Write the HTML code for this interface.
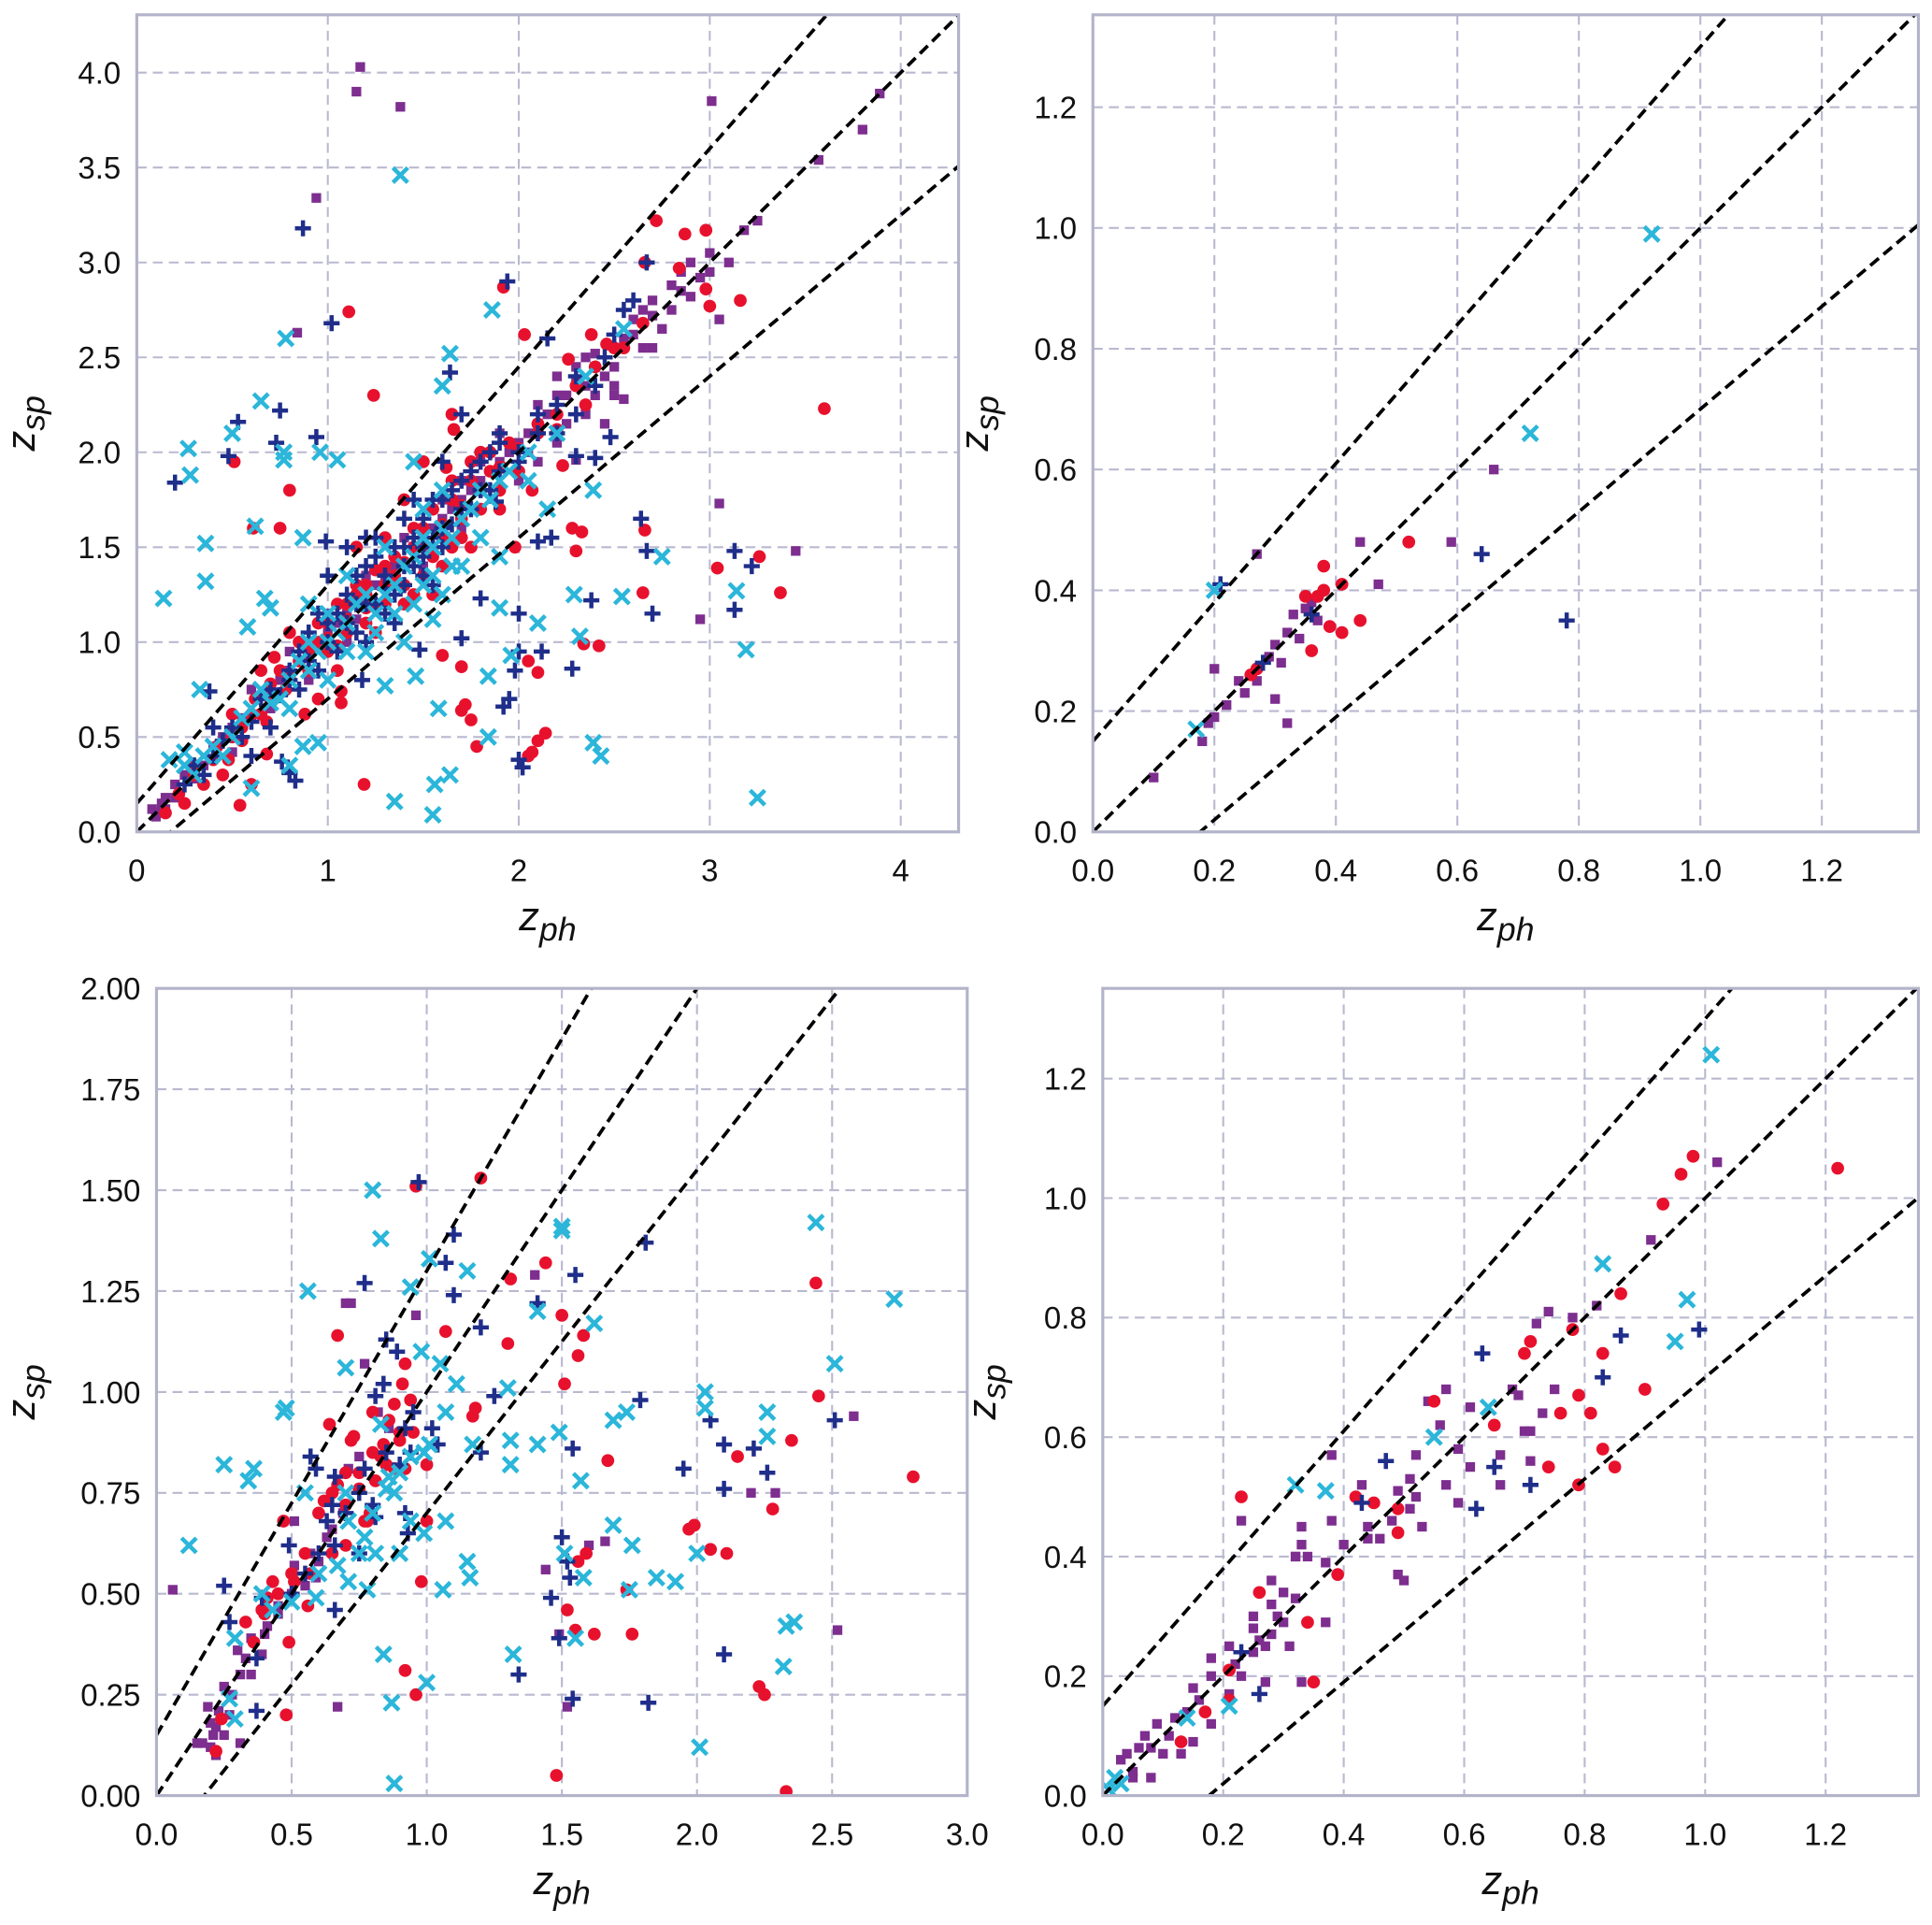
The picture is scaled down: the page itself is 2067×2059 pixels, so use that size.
<!DOCTYPE html>
<html><head><meta charset="utf-8"><title>z_sp vs z_ph scatter panels</title>
<style>
html,body{margin:0;padding:0;background:#fff;}
svg{display:block;font-family:"Liberation Sans",Arial,sans-serif;}
</style></head>
<body>
<svg id="fig" width="2067" height="2059" viewBox="0 0 1568 1562" xmlns="http://www.w3.org/2000/svg"></svg>
<script>
// ---------- DATA ----------
// Panel 1 (top-left)
const p1Purple = [[1.17,4.03],[1.15,3.90],[1.38,3.82],[0.94,3.34],[0.84,2.63],[3.01,3.85],[3.89,3.89],[3.80,3.70],[3.57,3.54],[3.25,3.22],[3.18,3.17],[3.05,1.73],[2.95,1.12],[3.45,1.48],[2.30,1.96],[2.05,2.0],
[0.10,0.08],[0.15,0.12],[0.20,0.18],[0.13,0.15],[0.25,0.30],[0.30,0.28],[0.35,0.35],[0.45,0.50],[0.55,0.60],[0.65,0.62],[0.75,0.80],[0.85,0.90],[0.95,1.00],[1.05,1.10],[1.15,1.12],[1.25,1.30],[1.35,1.40],[1.45,1.50],[1.55,1.60],[1.65,1.70],[1.75,1.80],[1.85,1.90],[1.95,2.00],[2.05,2.10],[2.15,2.20],[2.25,2.30],[2.35,2.35],[2.45,2.40],[2.40,2.52],[2.50,2.45],[2.55,2.60],[2.60,2.70],[2.65,2.75],[2.70,2.80],[2.75,2.65],[2.80,2.88],[2.85,2.95],[2.90,3.00],[3.00,3.05],[3.10,3.00],[3.05,2.70],[2.30,2.45],[2.20,2.05],[2.10,2.25],[2.00,1.85],[1.80,1.95],[1.70,1.60],[1.60,1.75],[1.50,1.40],[1.40,1.55],[1.30,1.20],[1.20,1.35],[1.10,1.00],[1.00,1.15],[0.90,0.80],[0.80,0.95],[0.70,0.65],[0.60,0.75],[0.50,0.42],[0.40,0.45],[2.55,2.28],[2.45,2.15],[2.70,2.55],[2.35,2.50],[2.50,2.35],[2.25,2.15],[2.40,2.30],
[0.5,0.55],[0.6,0.6],[0.7,0.72],[0.8,0.85],[0.9,0.92],[1.0,1.05],[1.1,1.15],[1.2,1.22],[1.3,1.35],[1.4,1.42],[1.5,1.55],[1.6,1.65],[1.7,1.75],[1.8,1.85],[1.9,1.95],[2.0,2.05],[2.1,2.15],[2.2,2.3],[2.3,2.38],[2.4,2.45],[2.5,2.55],[2.6,2.62],[2.65,2.55],[2.7,2.72],[2.8,2.75],[2.85,2.85],[2.9,2.82],[2.95,2.92],[3.0,2.95],[2.2,2.4],[2.1,1.95],[1.9,2.1],[1.7,1.85],[2.5,2.3],[2.35,2.2],[0.2,0.25],[0.15,0.18],[0.3,0.32],[0.12,0.1],[0.08,0.12]];
const p1Red = [[1.92,2.87],[1.11,2.74],[1.24,2.30],[0.51,1.95],[0.80,1.80],[0.75,1.60],[0.61,1.60],[3.60,2.23],[2.66,1.59],[3.26,1.45],[3.04,1.39],[3.37,1.26],[2.65,1.26],[2.30,1.48],[2.28,1.60],[2.33,1.58],[2.42,0.98],[2.34,0.99],[2.10,0.84],[2.05,0.90],[1.70,0.87],[1.60,0.93],[1.72,0.67],[1.70,0.64],[1.75,0.59],[1.78,0.45],[2.10,0.48],[2.14,0.52],[2.07,0.42],[2.05,0.40],[1.19,0.25],[0.54,0.14],[0.60,0.25],[0.70,0.78],[0.68,0.41],[1.07,0.74],[1.07,0.68],[2.72,3.22],[2.98,3.17],[2.87,3.15],[2.66,3.00],[2.84,2.97],[2.98,2.86],[3.00,2.77],[3.16,2.80],[2.38,2.62],[2.26,2.49],[2.03,2.62],[2.50,2.55],[2.46,2.57],[1.98,1.50],[2.07,1.80],[1.91,1.92],[1.65,2.20],[1.66,2.12],[2.35,2.25],[2.23,1.93],
[0.15,0.10],[0.22,0.20],[0.30,0.35],[0.35,0.25],[0.42,0.45],[0.48,0.38],[0.55,0.55],[0.62,0.70],[0.68,0.58],[0.72,0.92],[0.78,0.75],[0.85,1.00],[0.90,0.85],[0.95,1.10],[1.00,0.95],[1.05,1.20],[1.10,1.05],[1.15,1.30],[1.20,1.10],[1.25,1.38],[1.30,1.20],[1.35,1.45],[1.40,1.30],[1.45,1.60],[1.50,1.35],[1.55,1.70],[1.60,1.55],[1.65,1.85],[1.70,1.65],[1.75,1.95],[1.80,1.70],[1.85,2.00],[1.90,1.80],[1.95,2.05],[2.00,1.90],[2.10,2.15],[2.20,2.20],[2.30,2.35],[2.40,2.45],[2.55,2.55],[2.65,2.68],[1.30,1.55],[1.20,1.25],[1.55,1.25],[1.40,1.75],[1.75,1.50],[1.05,0.85],[0.95,0.70],[0.80,1.05],[0.65,0.85],[1.62,1.92],[1.50,1.95],[1.45,1.25],[1.65,1.50],[1.25,1.05],[1.15,1.50],[0.50,0.62],[0.45,0.30],[0.25,0.15],[0.88,0.62],
[0.3,0.3],[0.4,0.38],[0.5,0.5],[0.6,0.62],[0.7,0.7],[0.8,0.82],[0.9,0.95],[1.0,1.02],[1.1,1.12],[1.2,1.18],[1.3,1.3],[1.4,1.42],[1.5,1.5],[1.6,1.62],[1.7,1.72],[1.8,1.8],[1.9,1.92],[2.0,2.02],[2.1,2.1],[2.2,2.12],[1.15,1.25],[1.25,1.2],[1.35,1.35],[1.45,1.5],[1.55,1.45],[1.65,1.75],[1.75,1.85],[1.85,1.9],[0.95,1.0],[1.05,0.98],[0.85,0.9],[0.75,0.85],[0.65,0.62],[0.55,0.48],[1.3,1.4],[1.4,1.2],[1.5,1.6],[1.2,1.3],[1.1,1.2],[1.0,1.1],[1.6,1.4],[1.7,1.55],[1.8,2.0],[1.9,1.7]];
const p1Navy = [[0.87,3.18],[1.02,2.68],[0.53,2.16],[0.75,2.22],[0.94,2.08],[0.20,1.84],[0.48,1.98],[0.73,2.05],[1.94,2.90],[2.67,3.00],[2.15,2.60],[1.64,2.42],[2.60,2.80],[2.64,1.65],[2.67,1.48],[3.13,1.48],[3.22,1.40],[3.13,1.17],[2.70,1.15],[2.38,1.22],[1.80,1.23],[2.00,1.15],[2.00,0.95],[1.98,0.85],[1.95,0.70],[1.92,0.66],[2.00,0.38],[2.02,0.34],[2.28,0.86],[2.12,0.95],[1.70,1.02],[1.48,0.96],[1.18,0.80],[0.38,0.74],[0.80,0.31],[0.83,0.27],[0.76,0.37],[0.99,1.53],[1.88,1.74],[2.17,1.55],[2.10,1.53],[2.40,1.97],[2.30,1.98],[2.48,2.08],
[0.25,0.25],[0.35,0.30],[0.45,0.48],[0.55,0.50],[0.65,0.70],[0.75,0.72],[0.85,0.95],[0.90,1.05],[1.00,1.00],[1.05,1.15],[1.10,1.25],[1.15,1.05],[1.20,1.40],[1.25,1.20],[1.30,1.35],[1.35,1.25],[1.40,1.50],[1.45,1.40],[1.50,1.65],[1.55,1.55],[1.60,1.75],[1.65,1.62],[1.70,1.85],[1.75,1.70],[1.80,1.95],[1.85,1.80],[1.90,2.05],[2.00,2.00],[2.10,2.10],[2.20,2.25],[2.30,2.20],[2.40,2.35],[2.50,2.62],[2.55,2.75],[1.00,1.35],[1.10,1.50],[1.25,1.55],[1.45,1.75],[1.60,1.95],[0.95,0.85],[0.80,0.80],[0.70,0.55],[1.35,1.10],[1.55,1.30],[1.20,1.55],[1.70,2.20],[1.90,2.10],[0.60,0.40],[0.40,0.55],[1.15,1.20],[1.40,1.30],[1.50,1.50],
[0.3,0.35],[0.4,0.4],[0.5,0.55],[0.6,0.58],[0.7,0.75],[0.8,0.85],[0.9,0.9],[1.0,1.1],[1.1,1.1],[1.2,1.2],[1.3,1.28],[1.4,1.4],[1.5,1.45],[1.6,1.6],[1.7,1.7],[1.8,1.8],[1.9,1.9],[2.0,1.95],[2.1,2.2],[2.2,2.1],[1.05,0.95],[1.15,1.35],[1.25,1.45],[1.35,1.5],[1.45,1.55],[1.55,1.75],[1.65,1.8],[1.75,1.9],[1.85,2.0],[0.95,1.15],[0.85,0.75],[1.3,1.15],[1.5,1.35],[1.2,1.0],[1.4,1.65],[1.6,1.5],[2.3,2.4],[2.45,2.5]];
const p1Cyan = [[1.38,3.46],[0.78,2.60],[1.86,2.75],[1.64,2.52],[0.65,2.27],[0.50,2.10],[0.27,2.02],[0.28,1.88],[0.77,2.0],[0.77,1.96],[0.96,2.0],[1.05,1.96],[0.36,1.52],[0.36,1.32],[0.14,1.23],[0.62,1.61],[0.87,1.55],[0.67,1.23],[0.70,1.18],[0.58,1.08],[2.29,1.25],[2.54,1.24],[2.75,1.45],[3.14,1.27],[3.19,0.96],[3.25,0.18],[2.39,0.47],[2.43,0.40],[1.84,0.50],[1.84,0.82],[1.64,0.30],[1.56,0.25],[1.55,0.09],[1.35,0.16],[1.30,0.77],[1.46,0.82],[1.58,0.65],[1.90,1.18],[2.32,1.03],[1.96,0.93],[2.10,1.10],[1.60,2.35],[1.90,1.45],[2.39,1.80],[0.33,0.75],[0.87,0.45],[0.95,0.47],[0.80,0.35],[0.60,0.23],[0.17,0.38],[0.25,0.42],
[0.25,0.35],[0.35,0.40],[0.45,0.40],[0.55,0.60],[0.65,0.75],[0.75,0.70],[0.85,0.90],[0.95,0.95],[1.05,1.05],[1.15,1.20],[1.25,1.15],[1.35,1.30],[1.45,1.45],[1.55,1.50],[1.65,1.55],[1.75,1.70],[1.85,1.75],[1.95,1.90],[2.05,2.00],[2.20,2.10],[2.35,2.40],[2.55,2.65],[1.50,1.30],[1.60,1.25],[1.55,1.12],[1.40,1.00],[1.20,0.95],[1.00,0.80],[1.70,1.40],[1.80,1.55],[2.05,1.85],[2.15,1.70],[1.45,1.95],[1.30,1.50],[1.10,1.35],[0.90,1.20],
[0.3,0.3],[0.4,0.45],[0.5,0.5],[0.6,0.65],[0.7,0.68],[0.8,0.8],[0.9,0.85],[1.0,1.0],[1.1,1.1],[1.2,1.25],[1.3,1.25],[1.4,1.4],[1.5,1.55],[1.6,1.6],[1.7,1.65],[1.8,1.8],[1.9,1.85],[1.25,1.05],[1.35,1.15],[1.45,1.2],[1.55,1.35],[1.65,1.4],[1.0,1.15],[1.1,0.95],[1.5,1.7],[1.6,1.8],[0.8,0.65],[0.9,1.0]];

// Panel 2 (top-right)
const p2Purple = [[0.66,0.60],[0.59,0.48],[0.44,0.48],[0.47,0.41],[0.27,0.46],[0.10,0.09],[0.18,0.15],[0.19,0.18],[0.20,0.19],[0.22,0.21],[0.24,0.25],[0.20,0.27],[0.27,0.25],[0.29,0.29],[0.30,0.31],[0.31,0.28],[0.32,0.33],[0.33,0.36],[0.34,0.32],[0.30,0.22],[0.32,0.18],[0.35,0.37],[0.37,0.35],[0.25,0.23],[0.35,0.39],[0.36,0.38]];
const p2Red = [[0.52,0.48],[0.38,0.44],[0.41,0.41],[0.38,0.40],[0.37,0.39],[0.35,0.39],[0.44,0.35],[0.39,0.34],[0.41,0.33],[0.36,0.30],[0.27,0.27],[0.26,0.26]];
const p2Navy = [[0.21,0.41],[0.64,0.46],[0.78,0.35],[0.36,0.36],[0.28,0.28]];
const p2Cyan = [[0.92,0.99],[0.72,0.66],[0.20,0.40],[0.17,0.17]];

// Panel 3 (bottom-left)
const p3Purple = [[1.40,1.29],[0.70,1.22],[0.72,1.22],[0.96,1.19],[0.77,1.07],[2.58,0.94],[2.20,0.75],[2.29,0.75],[1.66,0.63],[1.60,0.62],[1.44,0.56],[0.06,0.51],[2.52,0.41],[1.49,0.40],[1.52,0.22],[0.67,0.22],
[0.31,0.13],[0.21,0.15],[0.22,0.17],[0.23,0.21],[0.25,0.27],[0.31,0.30],[0.33,0.34],[0.35,0.39],[0.41,0.42],[0.45,0.47],[0.51,0.57],[0.57,0.60],[0.63,0.64],[0.69,0.70],[0.71,0.81],[0.75,0.84],[0.86,0.91],[0.82,0.95],[0.19,0.22],[0.17,0.13],[0.51,0.68],[0.59,0.54],[0.39,0.35],[0.15,0.13],[0.22,0.10],[0.20,0.12],[0.28,0.25],[0.30,0.36],
[0.4,0.4],[0.45,0.45],[0.5,0.5],[0.55,0.52],[0.6,0.58],[0.65,0.66],[0.27,0.2],[0.25,0.15],[0.2,0.18],[0.35,0.3]];
const p3Red = [[1.20,1.53],[0.96,1.51],[1.44,1.32],[1.31,1.28],[2.44,1.27],[1.50,1.19],[1.58,1.14],[1.56,1.09],[1.07,1.15],[1.30,1.12],[0.67,1.14],[0.92,1.07],[1.51,1.02],[2.45,0.99],[0.91,1.02],[0.94,0.98],[1.18,0.96],[1.17,0.94],[0.64,0.92],[2.35,0.88],[2.15,0.84],[1.67,0.83],[2.80,0.79],[0.73,0.89],[0.84,0.87],[0.88,0.81],[0.92,0.81],[1.00,0.82],[0.81,0.78],[0.75,0.76],[0.67,0.77],[0.62,0.73],[0.79,0.70],[0.77,0.68],[2.28,0.71],[0.47,0.68],[1.00,0.68],[1.99,0.67],[1.97,0.66],[0.57,0.55],[0.51,0.53],[0.43,0.53],[2.05,0.61],[2.11,0.60],[1.59,0.60],[1.56,0.58],[0.98,0.53],[0.56,0.47],[1.74,0.51],[0.33,0.43],[0.39,0.46],[1.52,0.46],[1.62,0.40],[1.76,0.40],[1.55,0.41],[0.49,0.38],[0.92,0.31],[0.96,0.25],[2.23,0.27],[2.25,0.25],[0.48,0.20],[0.24,0.19],[0.22,0.11],[1.48,0.05],[2.33,0.01],[0.36,0.38],[0.41,0.49],[0.86,0.93],[0.83,0.84],[0.90,0.90],[0.70,0.80],
[0.6,0.7],[0.65,0.75],[0.7,0.72],[0.75,0.8],[0.8,0.85],[0.85,0.82],[0.9,0.88],[0.95,0.9],[0.7,0.62],[0.65,0.6],[0.55,0.6],[0.5,0.55],[0.45,0.5],[0.4,0.45],[0.8,0.95],[0.88,0.97],[0.78,0.68],[0.72,0.88]];
const p3Navy = [[0.97,1.52],[1.10,1.39],[1.07,1.32],[1.10,1.24],[0.77,1.27],[1.55,1.29],[1.81,1.37],[1.20,1.16],[1.41,1.22],[0.85,1.13],[0.89,1.10],[0.84,1.02],[0.81,0.99],[1.25,0.99],[1.79,0.98],[2.05,0.93],[2.51,0.93],[2.10,0.87],[2.21,0.86],[1.54,0.86],[1.20,0.85],[1.95,0.81],[2.26,0.80],[2.10,0.76],[0.57,0.84],[0.59,0.81],[0.66,0.79],[1.02,0.91],[1.04,0.87],[0.92,0.91],[0.94,0.85],[0.77,0.81],[0.81,0.69],[0.92,0.70],[0.63,0.68],[0.66,0.62],[0.49,0.62],[0.75,0.60],[1.50,0.64],[1.52,0.58],[1.53,0.54],[1.46,0.49],[0.66,0.46],[0.39,0.49],[0.25,0.52],[0.27,0.43],[0.37,0.34],[0.37,0.21],[1.49,0.39],[2.10,0.35],[1.34,0.30],[1.54,0.24],[1.82,0.23],[0.93,0.65],
[0.7,0.7],[0.75,0.75],[0.8,0.72],[0.85,0.85],[0.9,0.82],[0.6,0.6],[0.55,0.55],[0.65,0.72],[0.95,0.95],[0.5,0.5]];
const p3Cyan = [[0.80,1.50],[0.83,1.38],[0.56,1.25],[1.01,1.33],[1.15,1.30],[0.94,1.26],[1.50,1.41],[1.50,1.40],[2.44,1.42],[2.73,1.23],[1.41,1.20],[1.62,1.17],[0.98,1.10],[1.05,1.07],[1.11,1.02],[0.70,1.06],[1.30,1.01],[2.51,1.07],[2.03,1.00],[2.03,0.96],[2.26,0.95],[2.26,0.89],[1.74,0.95],[1.69,0.93],[1.49,0.90],[1.41,0.87],[1.31,0.88],[1.31,0.82],[1.17,0.87],[1.07,0.95],[0.47,0.95],[0.48,0.96],[0.25,0.82],[0.36,0.81],[0.34,0.78],[1.57,0.78],[0.55,0.75],[0.12,0.62],[1.69,0.67],[1.76,0.62],[2.00,0.60],[1.51,0.60],[1.58,0.54],[1.85,0.54],[1.92,0.53],[1.15,0.58],[1.16,0.54],[1.06,0.51],[1.75,0.51],[1.55,0.39],[2.36,0.43],[2.33,0.42],[2.32,0.32],[0.84,0.35],[1.32,0.35],[1.00,0.28],[0.87,0.23],[2.01,0.12],[0.88,0.03],
[0.83,0.92],[0.88,0.75],[0.85,0.76],[0.77,0.64],[0.81,0.60],[0.71,0.68],[0.43,0.46],[0.39,0.50],[0.29,0.39],[0.27,0.24],[0.29,0.19],[0.59,0.49],[0.67,0.57],[0.71,0.53],[0.94,0.68],[0.99,0.65],[0.90,0.60],[0.78,0.51],[0.86,0.79],[1.01,0.87],[0.99,0.85],[0.94,0.84],[1.07,0.68],
[0.7,0.75],[0.8,0.7],[0.9,0.8],[0.6,0.55],[0.5,0.48],[0.75,0.6]];

// Panel 4 (bottom-right)
const p4Purple = [[1.02,1.06],[0.91,0.93],[0.74,0.81],[0.82,0.82],[0.72,0.79],[0.78,0.80],[0.68,0.68],[0.69,0.67],[0.57,0.68],[0.54,0.66],[0.61,0.65],[0.75,0.68],[0.73,0.64],[0.70,0.61],[0.71,0.61],[0.56,0.62],[0.59,0.58],[0.66,0.57],[0.61,0.55],[0.52,0.57],[0.51,0.53],[0.52,0.50],[0.57,0.52],[0.59,0.49],[0.66,0.52],[0.71,0.56],[0.49,0.51],[0.51,0.48],[0.48,0.46],[0.53,0.45],[0.43,0.52],[0.44,0.45],[0.44,0.43],[0.46,0.43],[0.49,0.37],[0.38,0.57],[0.38,0.46],[0.37,0.39],[0.37,0.29],[0.33,0.45],[0.32,0.40],[0.33,0.42],[0.34,0.40],[0.30,0.34],[0.32,0.33],[0.29,0.30],[0.28,0.27],[0.27,0.25],[0.31,0.25],[0.25,0.24],[0.23,0.20],[0.23,0.46],[0.33,0.19],[0.27,0.19],[0.22,0.22],[0.18,0.20],[0.15,0.18],[0.16,0.16],[0.14,0.14],[0.12,0.13],[0.09,0.12],[0.07,0.10],[0.06,0.08],[0.04,0.07],[0.03,0.06],[0.10,0.07],[0.08,0.03],[0.05,0.04],[0.05,0.03],[0.18,0.12],[0.15,0.09],[0.13,0.07],[0.21,0.17],[0.25,0.30],[0.25,0.28],[0.28,0.36],[0.32,0.40],[0.40,0.42],[0.18,0.23],[0.21,0.25],[0.50,0.36],[0.28,0.32],[0.30,0.29],[0.26,0.26],[0.11,0.10],[0.08,0.08]];
const p4Red = [[1.22,1.05],[0.98,1.07],[0.96,1.04],[0.93,0.99],[0.86,0.84],[0.78,0.78],[0.71,0.76],[0.70,0.74],[0.83,0.74],[0.55,0.66],[0.65,0.62],[0.79,0.67],[0.76,0.64],[0.81,0.64],[0.90,0.68],[0.83,0.58],[0.74,0.55],[0.85,0.55],[0.79,0.52],[0.23,0.50],[0.42,0.50],[0.45,0.49],[0.49,0.48],[0.49,0.44],[0.39,0.37],[0.26,0.34],[0.34,0.29],[0.35,0.19],[0.21,0.21],[0.21,0.16],[0.17,0.14],[0.13,0.09]];
const p4Navy = [[0.63,0.74],[0.86,0.77],[0.99,0.78],[0.83,0.70],[0.47,0.56],[0.65,0.55],[0.71,0.52],[0.62,0.48],[0.43,0.49],[0.23,0.24],[0.26,0.17]];
const p4Cyan = [[1.01,1.24],[0.83,0.89],[0.97,0.83],[0.95,0.76],[0.55,0.60],[0.64,0.65],[0.32,0.52],[0.37,0.51],[0.21,0.15],[0.14,0.13],[0.02,0.03],[0.03,0.02],[0.01,0.01]];

// Tick values and labels
const p1XTicks = [0,1,2,3,4];
const p1XLabels = ["0","1","2","3","4"];
const p1YTicks = [0,0.5,1,1.5,2,2.5,3,3.5,4];
const p1YLabels = ["0.0","0.5","1.0","1.5","2.0","2.5","3.0","3.5","4.0"];
const p2XTicks = [0,0.2,0.4,0.6,0.8,1.0,1.2];
const p2XLabels = ["0.0","0.2","0.4","0.6","0.8","1.0","1.2"];
const p2YTicks = [0,0.2,0.4,0.6,0.8,1.0,1.2];
const p2YLabels = ["0.0","0.2","0.4","0.6","0.8","1.0","1.2"];
const p3XTicks = [0,0.5,1,1.5,2,2.5,3];
const p3XLabels = ["0.0","0.5","1.0","1.5","2.0","2.5","3.0"];
const p3YTicks = [0,0.25,0.5,0.75,1,1.25,1.5,1.75,2];
const p3YLabels = ["0.00","0.25","0.50","0.75","1.00","1.25","1.50","1.75","2.00"];
const p4XTicks = p2XTicks, p4XLabels = p2XLabels, p4YTicks = p2YTicks, p4YLabels = p2YLabels;

// Reference lines: z_sp = z_ph + k*0.15*(1+z_ph), k = +1, 0, -1
const refOffsets = [1, 0, -1];

// ---------- DRAWING ----------
const NS = "http://www.w3.org/2000/svg";
const svg = document.getElementById('fig');
function mk(tag, attrs, parent){
  const e = document.createElementNS(NS, tag);
  for (const k in attrs) e.setAttribute(k, attrs[k]);
  (parent||svg).appendChild(e);
  return e;
}
const GRID = "#b9b9d0", FRAME = "#b3b3c9";
const C_PURPLE="#7d2e8f", C_RED="#e8112d", C_NAVY="#1f2e8a", C_CYAN="#2bb6da";

const panels = [
 {id:"p1", L:111,R:778,T:12,B:675,xmax:4.303,ymax:4.305,xt:p1XTicks,xl:p1XLabels,yt:p1YTicks,yl:p1YLabels,ylx:28,s:[p1Purple,p1Red,p1Navy,p1Cyan]},
 {id:"p2", L:887,R:1557,T:12,B:675,xmax:1.359,ymax:1.353,xt:p2XTicks,xl:p2XLabels,yt:p2YTicks,yl:p2YLabels,ylx:802,s:[p2Purple,p2Red,p2Navy,p2Cyan]},
 {id:"p3", L:127,R:785,T:802,B:1457,xmax:3.0,ymax:2.0,xt:p3XTicks,xl:p3XLabels,yt:p3YTicks,yl:p3YLabels,ylx:28,s:[p3Purple,p3Red,p3Navy,p3Cyan]},
 {id:"p4", L:895,R:1557,T:802,B:1457,xmax:1.354,ymax:1.351,xt:p4XTicks,xl:p4XLabels,yt:p4YTicks,yl:p4YLabels,ylx:808,s:[p4Purple,p4Red,p4Navy,p4Cyan]}
];

panels.forEach((p, pi) => {
  const g = mk('g', {});
  
  
  const sx = v => p.L + v/p.xmax*(p.R-p.L);
  const sy = v => p.B - v/p.ymax*(p.B-p.T);
  const clipId = 'clip' + pi;
  const cp = mk('clipPath', {id:clipId}, g);
  mk('rect', {x:p.L, y:p.T, width:p.R-p.L, height:p.B-p.T}, cp);

  const grid = mk('g', {stroke:GRID, 'stroke-width':1.6, 'stroke-dasharray':'8 5'}, g);
  
  
  p.xt.forEach(v => { if (v>0) mk('line', {x1:sx(v), x2:sx(v), y1:p.T, y2:p.B}, grid); });
  p.yt.forEach(v => { if (v>0) mk('line', {x1:p.L, x2:p.R, y1:sy(v), y2:sy(v)}, grid); });

  const pts = mk('g', {'clip-path':'url(#'+clipId+')'}, g);
  const [pur, red, nav, cya] = p.s;
  pur.forEach(d => {
    const e = mk('rect', {x:sx(d[0])-3.9, y:sy(d[1])-3.9, width:7.8, height:7.8, fill:C_PURPLE}, pts);
    
    
  });
  red.forEach(d => {
    const e = mk('circle', {cx:sx(d[0]), cy:sy(d[1]), r:5.2, fill:C_RED}, pts);
    
    
  });
  nav.forEach(d => {
    const x = sx(d[0]), y = sy(d[1]);
    const e = mk('path', {d:`M${x-6.5} ${y}H${x+6.5}M${x} ${y-6.5}V${y+6.5}`, stroke:C_NAVY, 'stroke-width':3.4}, pts);
    
    
  });
  cya.forEach(d => {
    const x = sx(d[0]), y = sy(d[1]);
    const e = mk('path', {d:`M${x-6} ${y-6}L${x+6} ${y+6}M${x-6} ${y+6}L${x+6} ${y-6}`, stroke:C_CYAN, 'stroke-width':3.4}, pts);
    
    
  });

  const ref = mk('g', {'clip-path':'url(#'+clipId+')', stroke:'#000', 'stroke-width':2.8, 'stroke-dasharray':'9 5', fill:'none'}, g);
  
  
  refOffsets.forEach(k => {
    const f = x => x + k*0.15*(1+x);
    const ln = mk('line', {x1:sx(0), y1:sy(f(0)), x2:sx(p.xmax), y2:sy(f(p.xmax))}, ref);
    
    
  });

  const fr = mk('rect', {x:p.L, y:p.T, width:p.R-p.L, height:p.B-p.T, fill:'none', stroke:FRAME, 'stroke-width':2.4}, g);
  
  

  p.xt.forEach((v,i) => {
    const t = mk('text', {x:sx(v), y:p.B+40, 'text-anchor':'middle', 'font-size':25, fill:'#111'}, g);
    t.textContent = p.xl[i];
    
    
  });
  p.yt.forEach((v,i) => {
    const t = mk('text', {x:p.L-13, y:sy(v)+9, 'text-anchor':'end', 'font-size':25, fill:'#111'}, g);
    t.textContent = p.yl[i];
    
    
  });

  const xt = mk('text', {x:(p.L+p.R)/2, y:p.B+80, 'text-anchor':'middle', 'font-size':33, 'font-style':'italic', fill:'#111'}, g);
  
  
  xt.innerHTML = 'z<tspan font-size="27" dy="8">ph</tspan>';
  const cy = (p.T+p.B)/2;
  const yt = mk('text', {x:p.ylx, y:cy, 'text-anchor':'middle', 'font-size':33, 'font-style':'italic', fill:'#111', transform:`rotate(-90 ${p.ylx} ${cy})`}, g);
  
  
  yt.innerHTML = 'z<tspan font-size="27" dy="8">sp</tspan>';
});
</script>
</body></html>
